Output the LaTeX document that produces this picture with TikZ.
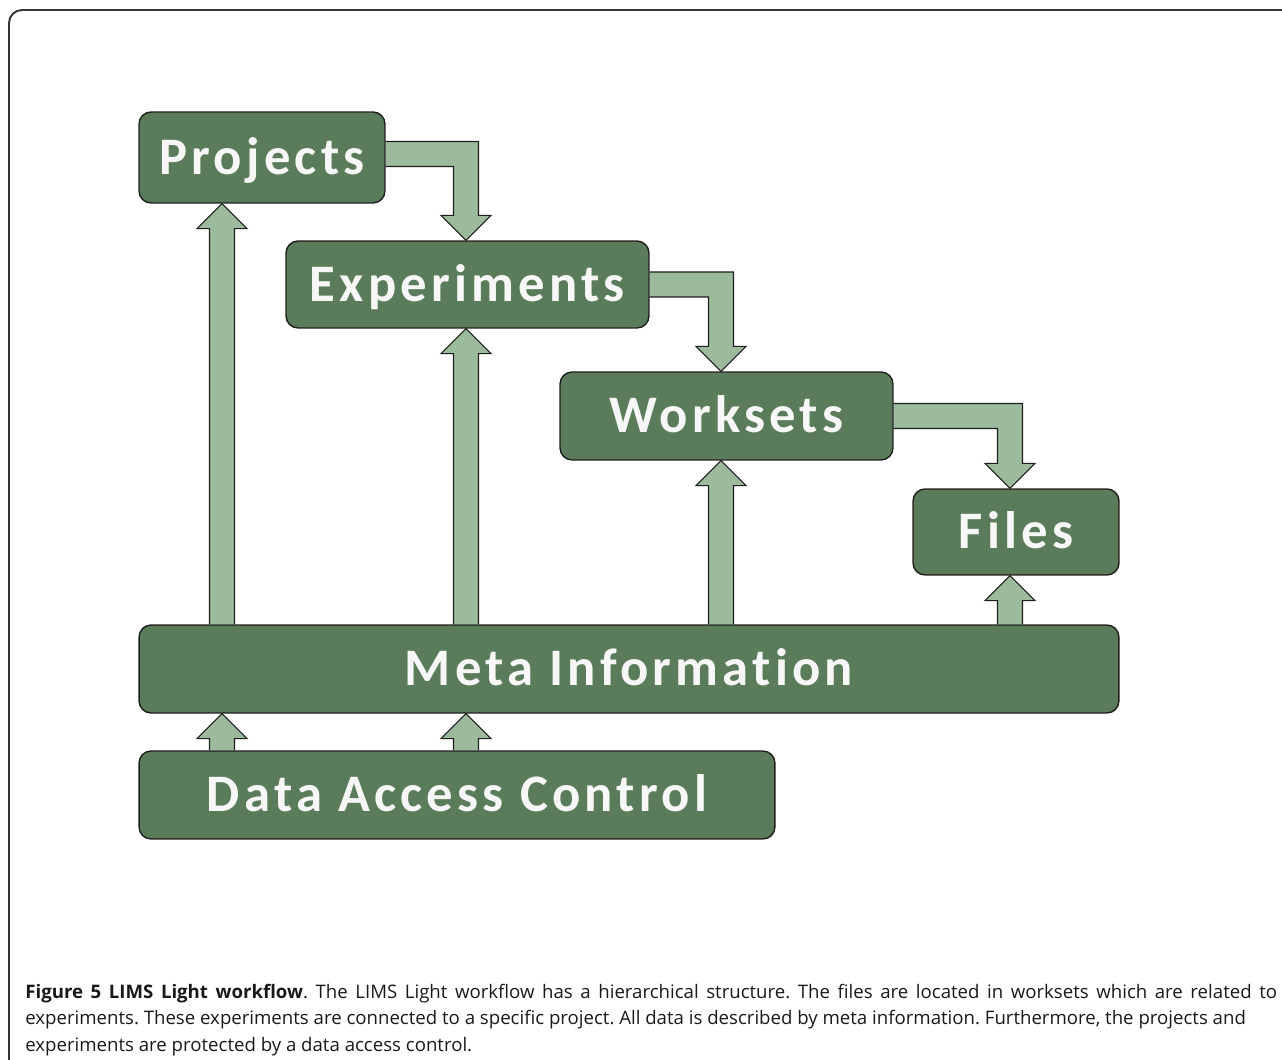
\documentclass[tikz,border=0pt]{standalone}
\usepackage{fontspec}
\usetikzlibrary{calc,backgrounds}
\newfontfamily\boxfont[LetterSpace=8, Ligatures={NoCommon}]{Carlito}
\newfontfamily\capfont{Open Sans}
\definecolor{boxgreen}{HTML}{5A7C5A}
\definecolor{arrowgreen}{HTML}{9CBB9C}
\definecolor{edgegray}{HTML}{1E1E1E}
\tikzset{
  box/.style={draw=edgegray, line width=0.8pt, fill=boxgreen, rounded corners=0.24cm,
    inner sep=0pt, text height=0.68cm, text depth=0pt, text=gray!6,
    font=\boxfont\fontsize{30}{34}\selectfont\bfseries},
  blockarrow/.style={draw=edgegray, line width=0.6pt, fill=arrowgreen, line join=miter},
  frame/.style={draw=black!80, line width=1.1pt, rounded corners=0.26cm}
}
% block arrow going up from #1 to the tip #2
\newcommand\blockup[2]{%
  \draw[blockarrow] ($(#1)+(-12.5,0)$) -- ($(#2)+(-12.5,25)$) -- ($(#2)+(-25,25)$)
    -- (#2) -- ($(#2)+(25,25)$) -- ($(#2)+(12.5,25)$) -- ($(#1)+(12.5,0)$);}
% block arrow going right from #1, then down to the tip #2 (both named coordinates)
\newcommand\blockelbow[2]{%
  \draw[blockarrow] ($(#1)+(0,-12.5)$) -- ($(#2 |- #1)+(12.5,-12.5)$) -- ($(#2)+(12.5,-25)$)
    -- ($(#2)+(25,-25)$) -- (#2) -- ($(#2)+(-25,-25)$) -- ($(#2)+(-12.5,-25)$)
    -- ($(#2 |- #1)+(-12.5,12.5)$) -- ($(#1)+(0,12.5)$);}
\begin{document}
\begin{tikzpicture}[x=0.02cm, y=-0.02cm]
	\useasboundingbox (0,0) rectangle (1282,1060);
	\draw[frame] (9,1080) -- (9,10) -- (1300,10);
	% boxes
	\node[box, minimum width=4.92cm, minimum height=1.82cm] (proj) at (262,157.5) {Projects};
	\node[box, minimum width=7.26cm, minimum height=1.74cm] (expt) at (467.5,284.5) {Experiments};
	\node[box, minimum width=6.66cm, minimum height=1.76cm] (wset) at (726.5,416) {Worksets};
	\node[box, minimum width=4.12cm, minimum height=1.72cm] (files) at (1016,532) {Files};
	\node[box, minimum width=19.6cm, minimum height=1.76cm] (meta) at (629,669) {Meta Information};
	\node[box, minimum width=12.72cm, minimum height=1.76cm] (dac) at (457,795) {Data Access Control};
	% arrow columns
	\coordinate (c1) at (222,0);
	\coordinate (c2) at (466,0);
	\coordinate (c3) at (721,0);
	\coordinate (c4) at (1010,0);
	\coordinate (pout) at ($(proj.east)+(0,-3.5)$);
	\coordinate (tip1) at (expt.north -| c2);
	\coordinate (tip2) at (wset.north -| c3);
	\coordinate (tip3) at (files.north -| c4);
	\begin{scope}[on background layer]
	\blockelbow{pout}{tip1}
	\blockelbow{expt.east}{tip2}
	\blockelbow{wset.east}{tip3}
	\blockup{meta.north -| c1}{proj.south -| c1}
	\blockup{meta.north -| c2}{expt.south -| c2}
	\blockup{meta.north -| c3}{wset.south -| c3}
	\blockup{meta.north -| c4}{files.south -| c4}
	\blockup{dac.north -| c1}{meta.south -| c1}
	\blockup{dac.north -| c2}{meta.south -| c2}
	\end{scope}
	% caption
	\node[anchor=north west, inner sep=0pt, text width=25.04cm, align=justify,
	  font=\capfont\fontsize{10.6}{15}\selectfont\frenchspacing, text=black!90] (cap) at (25,984)
	  {\textbf{Figure 5 LIMS Light workflow}. The LIMS Light workflow has a hierarchical structure. The files are located in worksets which are related to\linebreak
	  experiments. These experiments are connected to a specific project. All data is described by meta information. Furthermore, the projects and\\
	  experiments are protected by a data access control.};
\end{tikzpicture}
\end{document}
